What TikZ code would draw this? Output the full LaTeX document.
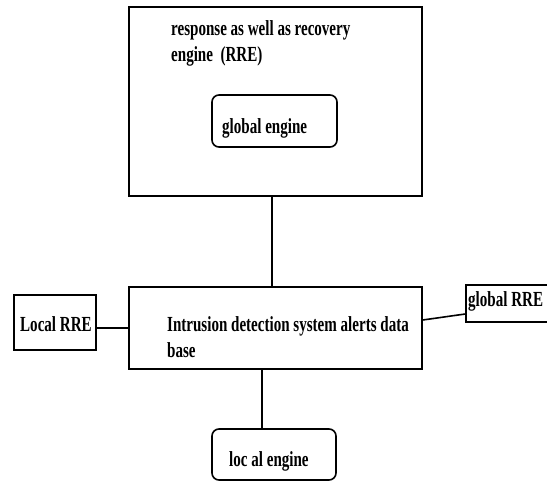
\documentclass[tikz,border=0pt]{standalone}
\usepackage{fontspec}
\setmainfont{Liberation Serif}[FakeStretch=0.7]

\begin{document}
\begin{tikzpicture}[x=1pt,y=-1pt]
   \tikzstyle{every node}=[font=\fontsize{21.5}{26}\selectfont\bfseries]
   \tikzstyle{box}=[draw, line width=1.6pt, inner sep=0pt]
   \tikzstyle{roundbox}=[box, rounded corners=7pt]
   \tikzstyle{txt}=[anchor=base west, inner sep=0pt, align=left]
   \tikzstyle{link}=[line width=1.6pt]

\useasboundingbox (0,0) rectangle (547,481);

\node[box, minimum width=293pt, minimum height=189pt] (rre) at (275.5,101.5) {};
\node[roundbox, minimum width=125pt, minimum height=52pt] (geng) at (274.5,121) {};
\node[box, minimum width=293pt, minimum height=82pt] (ids) at (275.5,328) {};
\node[box, minimum width=82pt, minimum height=55pt] (lrre) at (55,322.5) {};
\node[box, minimum width=89pt, minimum height=37pt] (grre) at (510.5,303.5) {};
\node[roundbox, minimum width=124pt, minimum height=51pt] (leng) at (274,454.5) {};

% multi-line texts sit on the baseline of their last line
\node[txt] (rretxt) at (171,62) {response as well as recovery\\engine\ \ (RRE)};
\node[txt] (gengtxt) at (222,134) {global engine};
\node[txt] (idstxt) at (167,358) {Intrusion detection system alerts data\\base};
\node[txt] (lrretxt) at (20,332) {Local RRE};
\node[txt] (grretxt) at (468,307) {global RRE};
\node[txt] (lengtxt) at (229,467) {loc al engine};

\draw[link] ([xshift=-3.5pt]rre.south) -- ([xshift=-3.5pt]rre.south |- ids.north);
\draw[link] ([xshift=-13.5pt]ids.south) -- ([xshift=-13.5pt]ids.south |- leng.north);
\draw[link] ([yshift=-5.5pt]lrre.east) -- (ids.west);
\draw[link] ([yshift=8pt]ids.east) -- ([yshift=-10.5pt]grre.west);

\end{tikzpicture}
\end{document}
